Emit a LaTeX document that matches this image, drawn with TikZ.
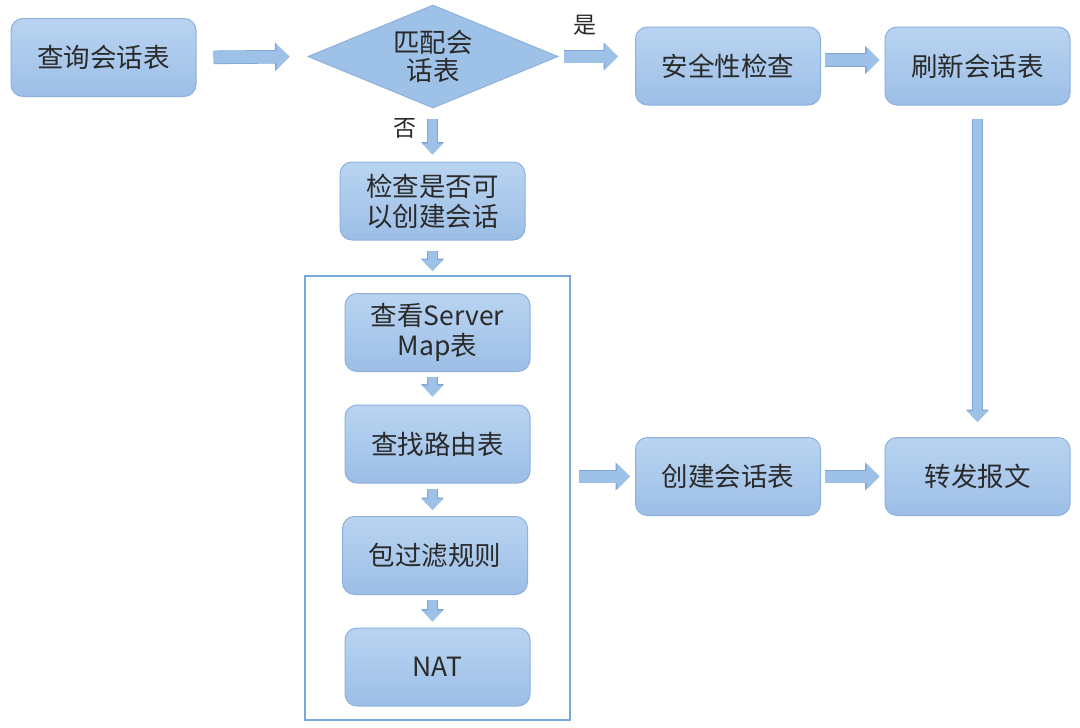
\documentclass[tikz,border=0pt]{standalone}
\usepackage{fontspec}
\setmainfont{Noto Sans CJK SC}
\usetikzlibrary{shapes.geometric,arrows.meta}
\definecolor{txt}{HTML}{2A2A2A}
\definecolor{boxtop}{HTML}{B9D4F1}
\definecolor{boxbot}{HTML}{9CBEE6}
\definecolor{boxline}{HTML}{8DB1DC}
\definecolor{arrfill}{HTML}{9EC1E7}
\definecolor{arrline}{HTML}{7FA6D6}
\definecolor{grpline}{HTML}{7AAAD9}
\tikzset{
  procbox/.style={rounded corners=12pt, draw=boxline, line width=1pt, top color=boxtop, bottom color=boxbot,
    minimum width=185pt, minimum height=78pt, inner sep=0pt, align=center, text=txt,
    font=\fontsize{26.5}{30}\selectfont},
  decbox/.style={diamond, aspect=2.4, draw=boxline, line width=1pt, fill=arrfill, minimum width=250pt, minimum height=103pt,
    inner sep=0pt, align=center, text=txt, font=\fontsize{26.5}{28}\selectfont},
  harrow/.style={draw=arrfill, line width=12pt, -{Triangle[width=25pt,length=13pt]},
    preaction={draw=arrline, line width=13.6pt, -{Triangle[width=27.5pt,length=14.5pt]}}},
  varrow/.style={draw=arrfill, line width=9pt, -{Triangle[width=20pt,length=11pt]},
    preaction={draw=arrline, line width=10.6pt, -{Triangle[width=22.5pt,length=12.5pt]}}},
  lbl/.style={text=txt, font=\fontsize{23}{26}\selectfont, inner sep=0pt},
  grpbox/.style={draw=grpline, line width=1.8pt, minimum width=265pt, minimum height=444pt, inner sep=0pt}
}
\begin{document}
\begin{tikzpicture}[x=1pt,y=-1pt]
\useasboundingbox[fill=white] (0,0) rectangle (1080,728);
\node[procbox] (q) at (103.5,57.5) {查询会话表};
\node[decbox] (d) at (433,56.5) {匹配会\\话表};
\node[procbox] (s) at (728,66) {安全性检查};
\node[procbox] (r) at (977.5,66) {刷新会话表};
\node[procbox] (c) at (432.5,201) {检查是否可\\以创建会话};
\node[grpbox] (g) at (437.5,498) {};
\node[procbox] (m) at (437.5,332.5) {查看Server\\Map表};
\node[procbox] (rt) at (437.5,444) {查找路由表};
\node[procbox] (p) at (435,555.5) {包过滤规则};
\node[procbox] (n) at (437.5,667) {NAT};
\node[procbox] (cr) at (728,476.5) {创建会话表};
\node[procbox] (f) at (977.5,476.5) {转发报文};
\node[lbl] (yes) at (585,25) {是};
\node[lbl] (no) at (405,128) {否};
% arrows
\draw[harrow, shorten <=17pt, shorten >=18pt] (q.east) -- (d.west);
\draw[harrow, shorten <=5pt, shorten >=17pt] (d.east) -- (d.east -| s.west);
\draw[harrow, shorten <=4pt, shorten >=5pt] (s.east |- 0,60) -- (r.west |- 0,60);
\draw[varrow, shorten <=10pt, shorten >=7pt] (d.south -| c.north) -- (c.north);
\draw[varrow, shorten <=10pt, shorten >=4pt] (c.south) -- (c.south |- g.north);
\draw[varrow, shorten <=5pt, shorten >=8pt] (m.south -| c.south) -- (rt.north -| c.south);
\draw[varrow, shorten <=5pt, shorten >=6pt] (rt.south -| c.south) -- (p.north -| c.south);
\draw[varrow, shorten <=5pt, shorten >=6pt] (p.south -| c.south) -- (n.north -| c.south);
\draw[harrow, shorten <=8pt, shorten >=5pt] (g.east |- cr.west) -- (cr.west);
\draw[harrow, shorten <=4pt, shorten >=5pt] (cr.east) -- (f.west);
\draw[varrow, shorten <=13pt, shorten >=15pt] (r.south) -- (f.north);
\end{tikzpicture}
\end{document}
